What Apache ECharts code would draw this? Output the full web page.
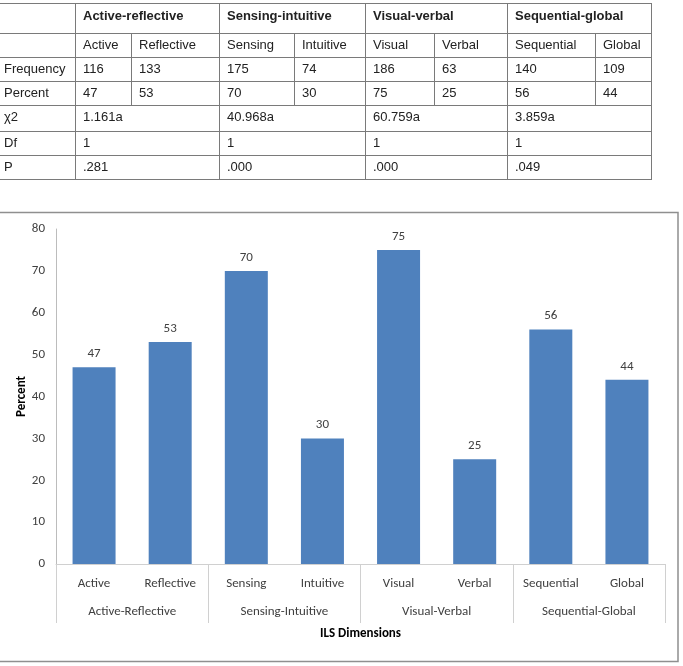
<!DOCTYPE html>
<html>
<head>
<meta charset="utf-8">
<script src="https://cdn.jsdelivr.net/npm/echarts@6/dist/echarts.min.js"></script>
<style>
  html, body { margin: 0; padding: 0; background: #fff; }
  #chart { position: absolute; left: 0; top: 0; width: 683px; height: 666px; }
  #stats {
    position: absolute; left: -1px; top: 3px; z-index: 2;
    border-collapse: collapse; table-layout: fixed;
    font-family: "Liberation Sans", Arial, sans-serif; font-size: 13px; color: #222;
  }
  #stats td { border: 1px solid #7a7a7a; padding: 3px 0 0 7px; vertical-align: top; overflow: hidden; white-space: nowrap; box-sizing: border-box; }
  #stats td.first { padding-left: 4px; }
  #stats tr.head td { font-weight: bold; height: 30px; padding-top: 4px; }
  #stats tr.r24 td { height: 24px; }
  #stats tr.r26 td { height: 26px; }
</style>
</head>
<body>
<table id="stats"></table>
<div id="chart"></div>
<script>
// learning style dimensions (table header / chart group labels)
const dimensions = ['Active-reflective', 'Sensing-intuitive', 'Visual-verbal', 'Sequential-global'];
const groupLabels = ['Active-Reflective', 'Sensing-Intuitive', 'Visual-Verbal', 'Sequential-Global'];
const styles = ['Active', 'Reflective', 'Sensing', 'Intuitive', 'Visual', 'Verbal', 'Sequential', 'Global'];
const frequency = [116, 133, 175, 74, 186, 63, 140, 109];
const percent = [47, 53, 70, 30, 75, 25, 56, 44];
const chiSquare = ['1.161a', '40.968a', '60.759a', '3.859a'];
const df = ['1', '1', '1', '1'];
const pValues = ['.281', '.000', '.000', '.049'];
const yMin = 0, yMax = 80, yStep = 10;

// column widths of the table (px)
const colWidths = [76, 56, 88, 75, 71, 69, 73, 88, 56];

function buildTable() {
  const t = document.getElementById('stats');
  let html = '<colgroup>' + colWidths.map(w => '<col style="width:' + w + 'px">').join('') + '</colgroup>';
  html += '<tr class="head"><td class="first"></td>' + dimensions.map(d => '<td colspan="2">' + d + '</td>').join('') + '</tr>';
  html += '<tr class="r24"><td class="first"></td>' + styles.map(s => '<td>' + s + '</td>').join('') + '</tr>';
  html += '<tr class="r24"><td class="first">Frequency</td>' + frequency.map(v => '<td>' + v + '</td>').join('') + '</tr>';
  html += '<tr class="r24"><td class="first">Percent</td>' + percent.map(v => '<td>' + v + '</td>').join('') + '</tr>';
  html += '<tr class="r26"><td class="first">&chi;2</td>' + chiSquare.map(v => '<td colspan="2">' + v + '</td>').join('') + '</tr>';
  html += '<tr class="r24"><td class="first">Df</td>' + df.map(v => '<td colspan="2">' + v + '</td>').join('') + '</tr>';
  html += '<tr class="r24"><td class="first">P</td>' + pValues.map(v => '<td colspan="2">' + v + '</td>').join('') + '</tr>';
  t.innerHTML = html;
}
buildTable();

const font = "Carlito, 'Liberation Sans Narrow', 'Open Sans', sans-serif";
const textColor = '#404040';
const lineColor = '#d0d0d0';

const chart = echarts.init(document.getElementById('chart'));
chart.setOption({
  backgroundColor: '#fff',
  animation: false,
  textStyle: { fontFamily: font },
  graphic: [{
    type: 'rect',
    shape: { x: -3, y: 212.5, width: 681, height: 449 },
    style: { fill: 'none', stroke: '#8f8f8f', lineWidth: 1.5 },
    silent: true
  }],
  grid: { left: 56, right: 18, top: 229, bottom: 102, containLabel: false },
  xAxis: [{
    type: 'category',
    data: styles,
    axisLine: { lineStyle: { color: lineColor } },
    axisTick: { show: false },
    axisLabel: { color: textColor, fontSize: 13, margin: 13, fontFamily: font }
  }, {
    type: 'category',
    data: groupLabels,
    position: 'bottom',
    axisLine: { show: false },
    axisTick: { show: true, length: 59, lineStyle: { color: lineColor } },
    axisLabel: { color: textColor, fontSize: 13, margin: 41, fontFamily: font },
    name: 'ILS Dimensions',
    nameLocation: 'middle',
    nameGap: 63,
    nameMoveOverlap: false,
    nameTextStyle: { color: '#000', fontWeight: 'bold', fontSize: 13, fontFamily: font }
  }],
  yAxis: {
    type: 'value',
    min: yMin, max: yMax, interval: yStep,
    splitLine: { show: false },
    axisLine: { show: true, lineStyle: { color: '#bcbcbc' } },
    axisTick: { show: false },
    axisLabel: { color: textColor, fontSize: 13, margin: 11, fontFamily: font },
    name: 'Percent',
    nameLocation: 'middle',
    nameGap: 28,
    nameMoveOverlap: false,
    nameTextStyle: { color: '#000', fontWeight: 'bold', fontSize: 13, fontFamily: font }
  },
  series: [{
    type: 'bar',
    data: percent,
    barWidth: 43,
    itemStyle: { color: '#4f81bd' },
    label: { show: true, position: 'top', distance: 7, color: textColor, fontSize: 13, fontFamily: font }
  }]
});
</script>
</body>
</html>
